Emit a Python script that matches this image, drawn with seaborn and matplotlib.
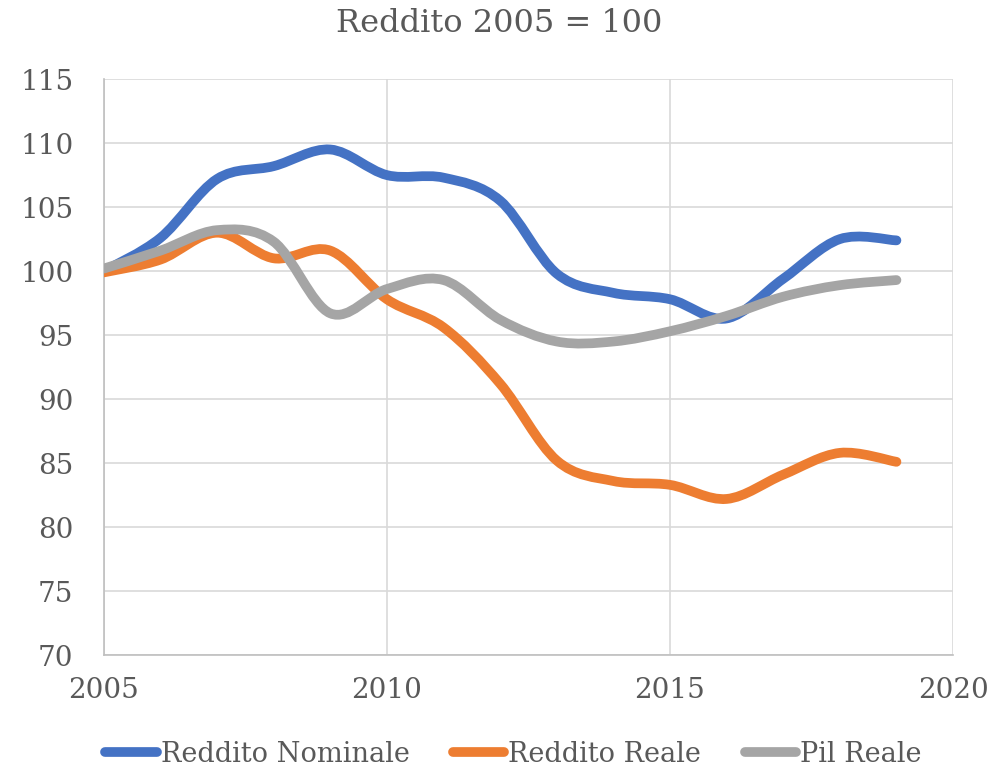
import numpy as np
import pandas as pd
import matplotlib
matplotlib.use("Agg")
import matplotlib.pyplot as plt
import seaborn as sns
from matplotlib.path import Path
from matplotlib.patches import PathPatch
from matplotlib.lines import Line2D

years = [2005, 2006, 2007, 2008, 2009, 2010, 2011, 2012, 2013, 2014, 2015, 2016, 2017, 2018, 2019]
reddito_nominale = [100.0, 102.6, 107.2, 108.2, 109.5, 107.5, 107.3, 105.5, 99.8, 98.3, 97.8, 96.3, 99.4, 102.5, 102.4]
reddito_reale = [99.9, 100.9, 103.0, 101.0, 101.6, 97.8, 95.6, 91.2, 85.2, 83.6, 83.3, 82.2, 84.1, 85.8, 85.1]
pil_reale = [100.2, 101.6, 103.2, 102.3, 96.7, 98.6, 99.3, 96.2, 94.5, 94.5, 95.3, 96.5, 98.0, 98.9, 99.3]
series_names = ["Reddito Nominale", "Reddito Reale", "Pil Reale"]
colors = ["#4472C4", "#ED7D31", "#A5A5A5"]
title = "Reddito 2005 = 100"

sns.set_theme(style="white")
plt.rcParams["font.family"] = ["DejaVu Serif"]
TXT = "#595959"

df = pd.DataFrame({
    "Anno": years * 3,
    "Valore": reddito_nominale + reddito_reale + pil_reale,
    "Serie": sum([[n] * len(years) for n in series_names], []),
})

fig = plt.figure(figsize=(9.99, 7.68), dpi=100)
ax = fig.add_axes([0.104, 0.147, 0.850, 0.750])
sns.lineplot(data=df, x="Anno", y="Valore", hue="Serie", palette=colors,
             linewidth=0, legend=False, ax=ax)


def smooth_path(xs, ys):
    pts = np.column_stack([xs, ys]).astype(float)
    n = len(pts)
    verts = [pts[0]]
    codes = [Path.MOVETO]
    for i in range(n - 1):
        p0 = pts[i - 1] if i > 0 else pts[i]
        p1 = pts[i]
        p2 = pts[i + 1]
        p3 = pts[i + 2] if i + 2 < n else pts[i + 1]
        c1 = p1 + (p2 - p0) / 6.0
        c2 = p2 - (p3 - p1) / 6.0
        verts += [c1, c2, p2]
        codes += [Path.CURVE4] * 3
    return Path(verts, codes)


LW = 7.0
for name, col in zip(series_names, colors):
    sub = df[df["Serie"] == name]
    patch = PathPatch(smooth_path(sub["Anno"].values, sub["Valore"].values),
                      facecolor="none", edgecolor=col, lw=LW,
                      capstyle="round", joinstyle="round", zorder=3)
    ax.add_patch(patch)

ax.set_xlim(2005, 2020)
ax.set_ylim(70, 115)
ax.set_xticks(range(2005, 2021, 5))
ax.set_yticks(range(70, 116, 5))
ax.grid(True, color="#D9D9D9", lw=1.2)
ax.set_axisbelow(True)
for s in ["top", "right"]:
    ax.spines[s].set_visible(False)
for s in ["left", "bottom"]:
    ax.spines[s].set_color("#BFBFBF")
    ax.spines[s].set_linewidth(1.2)
ax.tick_params(axis="both", length=0, labelsize=20, labelcolor=TXT)
ax.tick_params(axis="y", pad=22)
ax.tick_params(axis="x", pad=16)
ax.set_xlabel("")
ax.set_ylabel("")

fig.text(0.5, 1 - 23 / 768, title, ha="center", va="center", fontsize=23, color=TXT)

handles = [Line2D([0], [0], color=c, lw=LW, solid_capstyle="round") for c in colors]
fig.legend(handles, series_names, loc="center", bbox_to_anchor=(0.514, 1 - 754 / 768),
           ncol=3, frameon=False, fontsize=19.5, handlelength=1.9, handletextpad=0.15,
           columnspacing=1.6, labelcolor=TXT, borderpad=0.1)

fig.savefig("out.png", dpi=100)
